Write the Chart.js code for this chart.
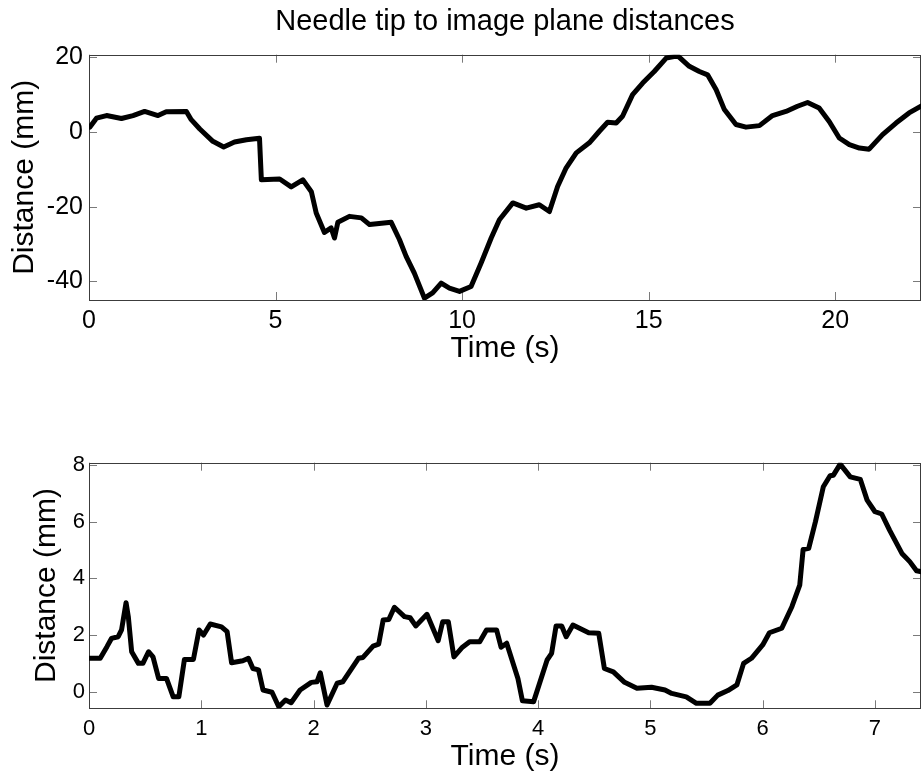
<!DOCTYPE html>
<html>
<head>
<meta charset="utf-8">
<script src="https://cdn.jsdelivr.net/npm/chart.js@4/dist/chart.umd.min.js"></script>
<style>
  html, body { margin: 0; padding: 0; background: #fff; }
  body { width: 922px; height: 776px; position: relative; overflow: hidden; }
  canvas { position: absolute; left: 0; }
  #c1 { top: 0; }
  #c2 { top: 390px; }
</style>
</head>
<body>
<canvas id="c1" width="922" height="390"></canvas>
<canvas id="c2" width="922" height="386"></canvas>
<script>
// ---- Data ----
const chartTitle = "Needle tip to image plane distances";
const xAxisLabel = "Time (s)";
const yAxisLabel = "Distance (mm)";

const time1 = [0.02, 0.2, 0.47, 0.87, 1.18, 1.49, 1.85, 2.07, 2.61, 2.74, 2.97, 3.32, 3.61, 3.9, 4.22, 4.57, 4.62, 5.11, 5.42, 5.73, 5.96, 6.09, 6.31, 6.49, 6.58, 6.67, 6.98, 7.3, 7.52, 8.1, 8.32, 8.5, 8.72, 8.99, 9.21, 9.44, 9.66, 9.93, 10.24, 10.51, 10.78, 11.0, 11.36, 11.72, 12.07, 12.34, 12.56, 12.79, 13.06, 13.41, 13.68, 13.9, 14.13, 14.3, 14.57, 14.84, 15.15, 15.47, 15.78, 16.09, 16.36, 16.58, 16.81, 17.03, 17.34, 17.61, 17.97, 18.32, 18.68, 18.99, 19.26, 19.57, 19.84, 20.11, 20.38, 20.65, 20.91, 21.27, 21.63, 21.98, 22.3];
const dist1 = [1.3, 3.7, 4.4, 3.6, 4.4, 5.5, 4.4, 5.4, 5.5, 3.3, 0.8, -2.5, -4.0, -2.7, -2.1, -1.7, -12.8, -12.6, -14.7, -12.8, -16.0, -21.7, -26.9, -25.7, -28.4, -24.2, -22.6, -23.0, -24.8, -24.2, -28.8, -33.3, -37.8, -44.5, -43.1, -40.5, -41.8, -42.7, -41.4, -35.1, -28.4, -23.5, -19.0, -20.4, -19.5, -21.3, -14.6, -9.6, -5.6, -2.9, 0.2, 2.6, 2.4, 4.2, 10.0, 13.1, 16.2, 19.8, 20.4, 17.6, 16.2, 15.3, 11.3, 6.0, 2.0, 1.3, 1.7, 4.4, 5.5, 6.9, 7.9, 6.4, 2.8, -1.6, -3.4, -4.3, -4.6, -0.7, 2.4, 5.1, 6.9];

const time2 = [0.0, 0.1, 0.16, 0.2, 0.26, 0.29, 0.33, 0.35, 0.38, 0.44, 0.48, 0.53, 0.57, 0.62, 0.69, 0.75, 0.8, 0.85, 0.93, 0.98, 1.02, 1.08, 1.18, 1.23, 1.27, 1.37, 1.42, 1.46, 1.51, 1.55, 1.63, 1.69, 1.75, 1.8, 1.88, 1.98, 2.03, 2.06, 2.12, 2.21, 2.26, 2.4, 2.44, 2.53, 2.58, 2.62, 2.67, 2.72, 2.81, 2.86, 2.91, 3.01, 3.11, 3.15, 3.2, 3.25, 3.32, 3.39, 3.48, 3.54, 3.63, 3.67, 3.72, 3.82, 3.86, 3.96, 4.08, 4.12, 4.16, 4.21, 4.25, 4.31, 4.45, 4.54, 4.59, 4.67, 4.77, 4.88, 5.01, 5.13, 5.19, 5.32, 5.41, 5.53, 5.6, 5.69, 5.77, 5.83, 5.9, 6.0, 6.06, 6.17, 6.26, 6.33, 6.36, 6.41, 6.47, 6.54, 6.6, 6.63, 6.69, 6.78, 6.87, 6.93, 7.0, 7.06, 7.13, 7.24, 7.31, 7.37, 7.42];
const dist2 = [1.18, 1.18, 1.59, 1.88, 1.94, 2.18, 3.14, 2.65, 1.41, 1.0, 1.0, 1.41, 1.23, 0.47, 0.47, -0.18, -0.18, 1.14, 1.14, 2.18, 2.0, 2.39, 2.29, 2.12, 1.02, 1.09, 1.18, 0.82, 0.77, 0.06, -0.02, -0.53, -0.29, -0.39, 0.06, 0.33, 0.35, 0.67, -0.47, 0.3, 0.35, 1.18, 1.21, 1.61, 1.68, 2.53, 2.55, 2.98, 2.65, 2.61, 2.32, 2.73, 1.8, 2.47, 2.47, 1.23, 1.55, 1.76, 1.76, 2.18, 2.18, 1.57, 1.71, 0.47, -0.32, -0.35, 1.12, 1.35, 2.32, 2.32, 1.94, 2.35, 2.08, 2.06, 0.82, 0.7, 0.33, 0.12, 0.16, 0.06, -0.06, -0.18, -0.41, -0.41, -0.12, 0.04, 0.24, 1.0, 1.18, 1.65, 2.08, 2.24, 3.0, 3.76, 5.02, 5.06, 6.0, 7.23, 7.62, 7.64, 8.03, 7.58, 7.49, 6.76, 6.35, 6.27, 5.7, 4.88, 4.59, 4.27, 4.23];

// Axis ranges and tick steps
const xRange1 = [0, 22.3], yRange1 = [-45, 20.7], xStep1 = 5, yStep1 = 20;
const xRange2 = [0, 7.41], yRange2 = [-0.585, 8.08], xStep2 = 1, yStep2 = 2;

const FONT = "'Liberation Sans', Arial, Helvetica, sans-serif";

function toXY(xs, ys) { return xs.map((x, i) => ({ x: x, y: ys[i] })); }

// MATLAB-style box with inward ticks on all four sides
const axesBox = {
  id: 'axesBox',
  beforeDatasetsDraw(chart) {
    const { ctx, chartArea: a, scales } = chart;
    const L = 8;
    ctx.save();
    ctx.lineWidth = 1;
    ctx.strokeStyle = '#7a7a7a';
    ctx.beginPath();
    scales.x.ticks.forEach(t => {
      const p = Math.round(scales.x.getPixelForValue(t.value)) + 0.5;
      ctx.moveTo(p, a.bottom); ctx.lineTo(p, a.bottom - L);
      ctx.moveTo(p, a.top); ctx.lineTo(p, a.top + L);
    });
    scales.y.ticks.forEach(t => {
      const p = Math.round(scales.y.getPixelForValue(t.value)) + 0.5;
      ctx.moveTo(a.left, p); ctx.lineTo(a.left + L, p);
      ctx.moveTo(a.right, p); ctx.lineTo(a.right - L, p);
    });
    ctx.stroke();
    ctx.strokeStyle = '#3c3c3c';
    const l = Math.round(a.left) + 0.5, r = Math.round(a.right) - 0.5;
    const tp = Math.round(a.top) + 0.5, b = Math.round(a.bottom) + 0.5;
    ctx.strokeRect(l, tp, r - l, b - tp);
    ctx.restore();
  }
};

function makeChart(id, xs, ys, xr, yr, xs_step, ys_step, cfg) {
  return new Chart(document.getElementById(id), {
    type: 'line',
    data: {
      datasets: [{
        data: toXY(xs, ys),
        borderColor: '#000',
        borderWidth: 5,
        pointRadius: 0,
        tension: 0,
        borderJoinStyle: 'round',
        borderCapStyle: 'round',
        fill: false
      }]
    },
    options: {
      responsive: false,
      animation: false,
      devicePixelRatio: 1,
      layout: { padding: { left: 0, right: 1, top: cfg.padTop, bottom: 0 } },
      plugins: {
        legend: { display: false },
        tooltip: { enabled: false },
        title: cfg.title ? {
          display: true,
          fullSize: false,
          text: cfg.title,
          color: '#000',
          font: { family: FONT, size: 29, weight: 'normal' },
          padding: { top: 5, bottom: 14.9 }
        } : { display: false }
      },
      scales: {
        x: {
          type: 'linear',
          min: xr[0], max: xr[1],
          grid: { display: false, drawTicks: false },
          border: { display: false },
          ticks: {
            stepSize: xs_step,
            includeBounds: false,
            autoSkip: false,
            maxRotation: 0,
            color: '#000',
            padding: cfg.xTickPad,
            font: { family: FONT, size: cfg.tickSize }
          },
          title: {
            display: true,
            text: xAxisLabel,
            color: '#000',
            font: { family: FONT, size: 30 },
            padding: { top: 0, bottom: cfg.xTitlePad }
          },
          afterFit(s) { s.height = cfg.xHeight; }
        },
        y: {
          type: 'linear',
          min: yr[0], max: yr[1],
          grid: { display: false, drawTicks: false },
          border: { display: false },
          ticks: {
            stepSize: ys_step,
            includeBounds: false,
            color: '#000',
            padding: cfg.yTickPad,
            font: { family: FONT, size: cfg.tickSize }
          },
          title: {
            display: true,
            text: yAxisLabel,
            color: '#000',
            font: { family: FONT, size: 30 },
            padding: { top: cfg.yTitlePad, bottom: 0 }
          },
          afterFit(s) { s.width = 89; }
        }
      }
    },
    plugins: [axesBox]
  });
}

makeChart('c1', time1, dist1, xRange1, yRange1, xStep1, yStep1, {
  title: chartTitle, padTop: 0, tickSize: 25, xTickPad: 6, yTickPad: 6,
  xTitlePad: 23, xHeight: 90, yTitlePad: 7
});
makeChart('c2', time2, dist2, xRange2, yRange2, xStep2, yStep2, {
  title: null, padTop: 72.7, tickSize: 22, xTickPad: 7, yTickPad: 4,
  xTitlePad: 1.5, xHeight: 67.7, yTitlePad: 29
});
</script>
</body>
</html>
